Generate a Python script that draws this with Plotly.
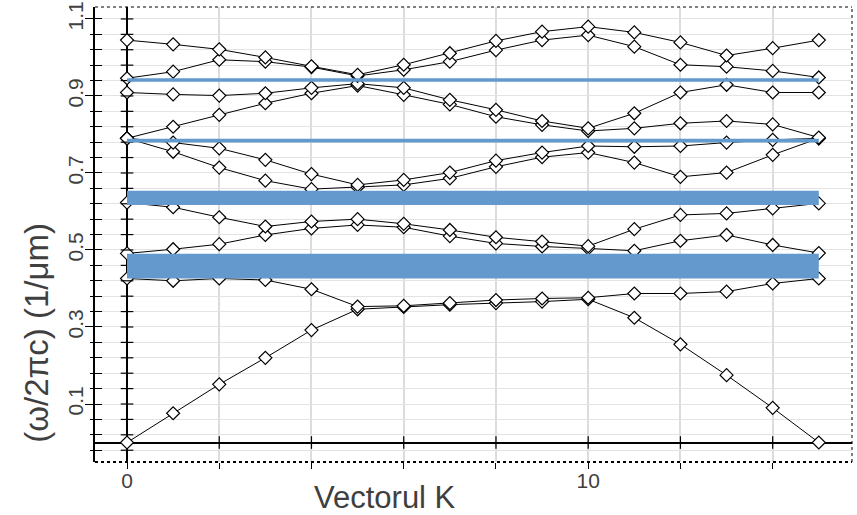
import numpy as np
import plotly.graph_objects as go

# k-points
k = list(range(16))

# photonic bands (normalized frequency)
band1 = [0.000, 0.076, 0.151, 0.220, 0.292, 0.346, 0.352, 0.358, 0.362, 0.366, 0.372, 0.324, 0.255, 0.175, 0.090, 0.000]
band2 = [0.426, 0.420, 0.426, 0.422, 0.398, 0.353, 0.355, 0.362, 0.370, 0.374, 0.376, 0.387, 0.387, 0.392, 0.413, 0.426]
band3 = [0.491, 0.502, 0.515, 0.539, 0.556, 0.565, 0.559, 0.536, 0.517, 0.509, 0.504, 0.498, 0.524, 0.539, 0.513, 0.492]
band4 = [0.623, 0.611, 0.585, 0.561, 0.574, 0.580, 0.568, 0.552, 0.533, 0.522, 0.510, 0.554, 0.591, 0.595, 0.608, 0.621]
band5 = [0.790, 0.755, 0.714, 0.680, 0.658, 0.663, 0.669, 0.686, 0.716, 0.741, 0.753, 0.727, 0.690, 0.701, 0.747, 0.790]
band6 = [0.790, 0.779, 0.764, 0.734, 0.697, 0.669, 0.682, 0.701, 0.732, 0.753, 0.770, 0.768, 0.770, 0.779, 0.786, 0.790]
band7 = [0.790, 0.820, 0.851, 0.881, 0.907, 0.927, 0.903, 0.878, 0.846, 0.825, 0.809, 0.816, 0.829, 0.835, 0.826, 0.792]
band8 = [0.909, 0.904, 0.901, 0.907, 0.921, 0.932, 0.921, 0.890, 0.864, 0.835, 0.816, 0.855, 0.909, 0.929, 0.909, 0.909]
band9 = [0.946, 0.963, 0.994, 0.989, 0.975, 0.952, 0.968, 0.989, 1.019, 1.045, 1.058, 1.028, 0.981, 0.976, 0.965, 0.948]
band10 = [1.045, 1.034, 1.021, 1.000, 0.977, 0.955, 0.981, 1.011, 1.043, 1.067, 1.080, 1.065, 1.039, 1.005, 1.024, 1.045]
bands = [band1, band2, band3, band4, band5, band6, band7, band8, band9, band10]

# band gaps (lower, upper)
gap_low = [0.937, 0.779, 0.617, 0.426]
gap_high = [0.946, 0.789, 0.654, 0.490]

# axis labels / ticks
x_tickvals = [0, 10]
x_ticktext = ["0", "10"]
x_title = "Vectorul K"
y_title = "(ω/2πc) (1/μm)"

XR = [-0.694, 15.72]
YR = [-0.0506, 1.131]
GAP_COLOR = "#6399CC"
TXT = "#3f3f3f"
FONT = "Liberation Sans, Arial, sans-serif"

fig = go.Figure()

for b in bands:
    fig.add_trace(go.Scatter(
        x=k, y=b, mode="lines+markers",
        line=dict(color="black", width=1),
        marker=dict(symbol="diamond", size=10, color="white",
                    line=dict(color="black", width=1.2)),
        showlegend=False, hoverinfo="skip"))

# crossing ticks on the zero lines
ytk = np.round(np.arange(-0.02, 1.13, 0.04), 3)
fig.add_trace(go.Scatter(x=[0] * len(ytk), y=ytk, mode="markers",
                         marker=dict(symbol="line-ew", size=9, line=dict(color="black", width=1.2)),
                         showlegend=False, hoverinfo="skip", cliponaxis=False))
xtk = list(range(2, 16, 2))
fig.add_trace(go.Scatter(x=xtk, y=[0] * len(xtk), mode="markers",
                         marker=dict(symbol="line-ns", size=9, line=dict(color="black", width=1.2)),
                         showlegend=False, hoverinfo="skip", cliponaxis=False))

# gap bands
for lo, hi in zip(gap_low, gap_high):
    fig.add_shape(type="rect", xref="x", yref="y", x0=k[0], x1=k[-1], y0=lo, y1=hi,
                  fillcolor=GAP_COLOR, line=dict(width=0), layer="above")

# dotted frame (top, right, bottom)
fig.add_shape(type="line", xref="paper", yref="paper", x0=0, x1=1, y0=1, y1=1,
              line=dict(color="black", width=1, dash="dot"))
fig.add_shape(type="line", xref="paper", yref="paper", x0=1, x1=1, y0=0, y1=1,
              line=dict(color="black", width=1, dash="dot"))
fig.add_shape(type="line", xref="paper", yref="paper", x0=0, x1=1, y0=0, y1=0,
              line=dict(color="black", width=2, dash="dot"))

fig.update_layout(
    width=857, height=515,
    margin=dict(l=95, r=5, t=7, b=53),
    plot_bgcolor="white", paper_bgcolor="white",
    font=dict(family=FONT, color=TXT),
    xaxis=dict(range=XR, tickvals=x_tickvals, ticktext=x_ticktext, automargin=False,
               showgrid=True, gridcolor="#dcdcdc", gridwidth=1.5,
               zeroline=True, zerolinecolor="black", zerolinewidth=1.8,
               showline=False, ticks="outside", ticklen=6, tickcolor="black",
               ticklabelstandoff=-6, tickfont=dict(size=21, color=TXT),
               minor=dict(tick0=0, dtick=2, showgrid=True, gridcolor="#dcdcdc", gridwidth=1.5,
                          ticks="outside", ticklen=6, tickcolor="black")),
    yaxis=dict(range=YR, tick0=0.1, dtick=0.2, tickangle=-90, automargin=False,
               showgrid=True, gridcolor="#e3e3e3", gridwidth=1.2,
               zeroline=True, zerolinecolor="black", zerolinewidth=1.5,
               showline=True, linecolor="black", linewidth=1.5,
               ticks="outside", ticklen=8, tickcolor="black", tickwidth=1.2,
               ticklabelstandoff=-6, tickfont=dict(size=21, color=TXT),
               minor=dict(tick0=0.1, dtick=0.04, showgrid=True, gridcolor="#e3e3e3", gridwidth=1.2,
                          ticks="outside", ticklen=3, tickcolor="black", tickwidth=1.2)),
    yaxis2=dict(range=YR, overlaying="y", anchor="x", side="left", automargin=False,
                showgrid=False, zeroline=False, showticklabels=False,
                tick0=0.1, dtick=0.2, ticks="inside", ticklen=7, tickcolor="black", tickwidth=1.2,
                minor=dict(tick0=0.1, dtick=0.04, ticks="inside", ticklen=7, tickcolor="black", tickwidth=1.2)),
    annotations=[
        dict(text=x_title, xref="paper", yref="paper", x=0.383, y=-0.079,
             xanchor="center", yanchor="middle", showarrow=False,
             font=dict(size=31, color=TXT, family=FONT)),
        dict(text=y_title, xref="paper", yref="paper", x=-0.0766, y=0.284,
             xanchor="center", yanchor="middle", textangle=-90, showarrow=False,
             font=dict(size=33, color=TXT, family=FONT)),
    ],
)
# dummy trace so yaxis2 is drawn
fig.add_trace(go.Scatter(x=[None], y=[None], yaxis="y2", showlegend=False, hoverinfo="skip"))

fig.write_html("out.html", config={"displayModeBar": False},
               post_script="document.body.style.margin='0';")
